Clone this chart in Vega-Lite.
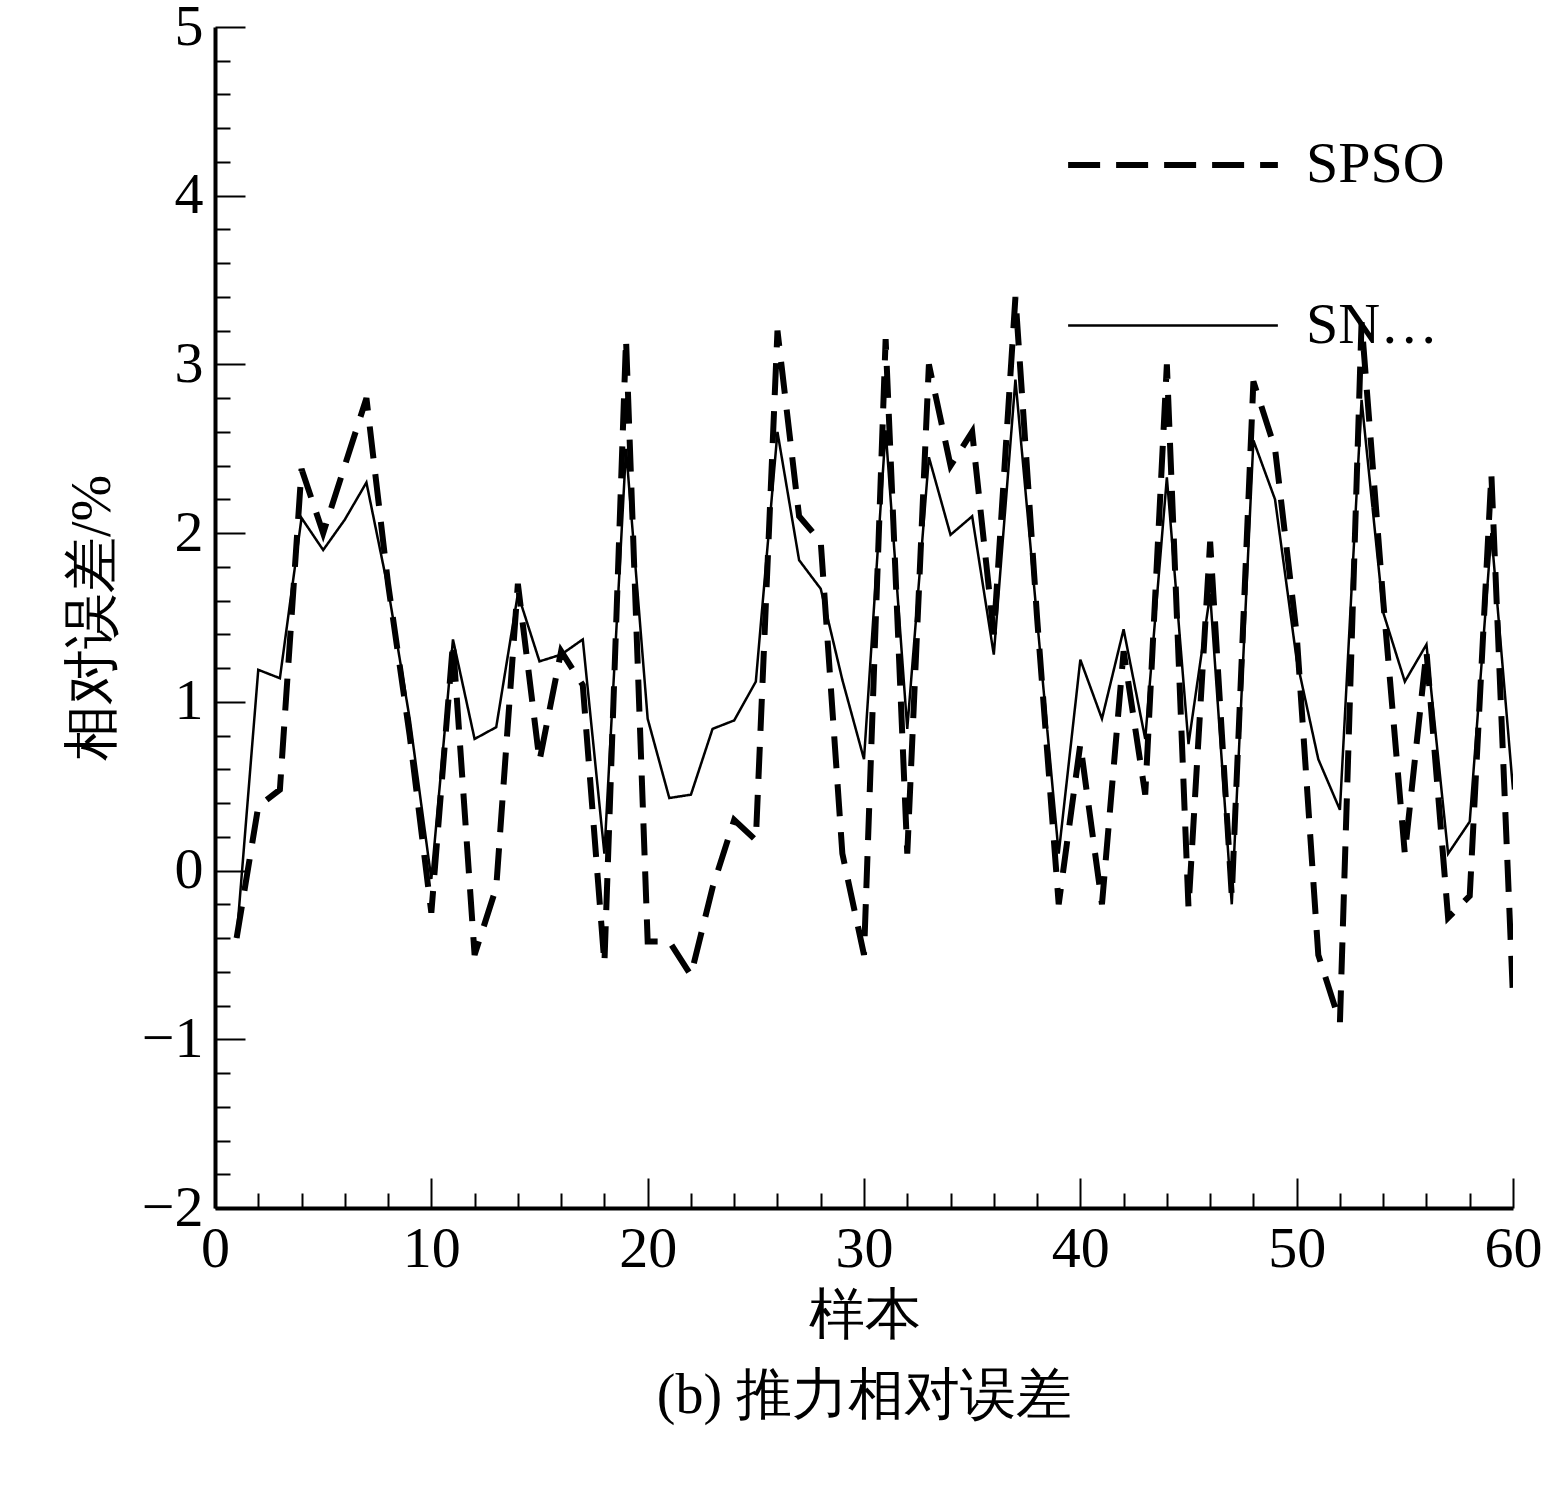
{
  "$schema": "https://vega.github.io/schema/vega-lite/v6.json",
  "width": 1298,
  "height": 1181,
  "autosize": "none",
  "padding": {"left": 215, "top": 27, "right": 33, "bottom": 281},
  "background": "white",
  "data": {"values": [
    {"x":1,"SPSO":-0.4,"SNPSO":-0.4},{"x":2,"SPSO":0.38,"SNPSO":1.19},{"x":3,"SPSO":0.48,"SNPSO":1.14},
    {"x":4,"SPSO":2.38,"SNPSO":2.09},{"x":5,"SPSO":2.0,"SNPSO":1.9},{"x":6,"SPSO":2.4,"SNPSO":2.08},
    {"x":7,"SPSO":2.8,"SNPSO":2.3},{"x":8,"SPSO":1.7,"SNPSO":1.67},{"x":9,"SPSO":0.8,"SNPSO":0.9},
    {"x":10,"SPSO":-0.25,"SNPSO":-0.05},{"x":11,"SPSO":1.35,"SNPSO":1.37},{"x":12,"SPSO":-0.5,"SNPSO":0.78},
    {"x":13,"SPSO":-0.1,"SNPSO":0.85},{"x":14,"SPSO":1.7,"SNPSO":1.64},{"x":15,"SPSO":0.65,"SNPSO":1.24},
    {"x":16,"SPSO":1.3,"SNPSO":1.28},{"x":17,"SPSO":1.1,"SNPSO":1.37},{"x":18,"SPSO":-0.55,"SNPSO":0.1},
    {"x":19,"SPSO":3.15,"SNPSO":2.5},{"x":20,"SPSO":-0.42,"SNPSO":0.9},{"x":21,"SPSO":-0.42,"SNPSO":0.43},
    {"x":22,"SPSO":-0.62,"SNPSO":0.45},{"x":23,"SPSO":-0.1,"SNPSO":0.84},{"x":24,"SPSO":0.3,"SNPSO":0.89},
    {"x":25,"SPSO":0.18,"SNPSO":1.12},{"x":26,"SPSO":3.2,"SNPSO":2.6},{"x":27,"SPSO":2.1,"SNPSO":1.84},
    {"x":28,"SPSO":1.95,"SNPSO":1.67},{"x":29,"SPSO":0.1,"SNPSO":1.13},{"x":30,"SPSO":-0.5,"SNPSO":0.66},
    {"x":31,"SPSO":3.15,"SNPSO":2.61},{"x":32,"SPSO":0.1,"SNPSO":0.84},{"x":33,"SPSO":3.0,"SNPSO":2.45},
    {"x":34,"SPSO":2.4,"SNPSO":1.99},{"x":35,"SPSO":2.6,"SNPSO":2.1},{"x":36,"SPSO":1.4,"SNPSO":1.28},
    {"x":37,"SPSO":3.4,"SNPSO":2.91},{"x":38,"SPSO":1.5,"SNPSO":1.49},{"x":39,"SPSO":-0.2,"SNPSO":0.1},
    {"x":40,"SPSO":0.75,"SNPSO":1.25},{"x":41,"SPSO":-0.2,"SNPSO":0.9},{"x":42,"SPSO":1.3,"SNPSO":1.43},
    {"x":43,"SPSO":0.45,"SNPSO":0.78},{"x":44,"SPSO":3.0,"SNPSO":2.33},{"x":45,"SPSO":-0.22,"SNPSO":0.75},
    {"x":46,"SPSO":1.95,"SNPSO":1.64},{"x":47,"SPSO":-0.15,"SNPSO":-0.2},{"x":48,"SPSO":2.9,"SNPSO":2.55},
    {"x":49,"SPSO":2.5,"SNPSO":2.2},{"x":50,"SPSO":1.4,"SNPSO":1.25},{"x":51,"SPSO":-0.5,"SNPSO":0.66},
    {"x":52,"SPSO":-0.9,"SNPSO":0.36},{"x":53,"SPSO":3.25,"SNPSO":2.79},{"x":54,"SPSO":1.6,"SNPSO":1.53},
    {"x":55,"SPSO":0.1,"SNPSO":1.12},{"x":56,"SPSO":1.3,"SNPSO":1.34},{"x":57,"SPSO":-0.28,"SNPSO":0.1},
    {"x":58,"SPSO":-0.15,"SNPSO":0.29},{"x":59,"SPSO":2.35,"SNPSO":2.0},{"x":60,"SPSO":-0.75,"SNPSO":0.48}
  ]},
  "transform": [{"fold": ["SPSO", "SNPSO"], "as": ["series", "v"]}],
  "mark": {"type": "line", "color": "black", "clip": true},
  "encoding": {
    "x": {
      "field": "x", "type": "quantitative",
      "scale": {"domain": [0, 60], "nice": false},
      "axis": {
        "values": [0,2,4,6,8,10,12,14,16,18,20,22,24,26,28,30,32,34,36,38,40,42,44,46,48,50,52,54,56,58,60],
        "format": "d",
        "labelExpr": "datum.value % 10 === 0 ? datum.label : ''",
        "tickSize": {"condition": {"test": "datum.value % 10 === 0", "value": -30}, "value": -15},
        "title": ["样本", "(b) 推力相对误差"],
        "titleFontWeight": "normal", "titleFontSize": 56, "titlePadding": 10, "titleLineHeight": 80,
        "labelPadding": 42, "labelFlush": false
      }
    },
    "y": {
      "field": "v", "type": "quantitative",
      "scale": {"domain": [-2, 5], "nice": false},
      "axis": {
        "values": [-2,-1.8,-1.6,-1.4,-1.2,-1,-0.8,-0.6,-0.4,-0.2,0,0.2,0.4,0.6,0.8,1,1.2,1.4,1.6,1.8,2,2.2,2.4,2.6,2.8,3,3.2,3.4,3.6,3.8,4,4.2,4.4,4.6,4.8,5],
        "labelExpr": "abs(round(datum.value) - datum.value) < 1e-6 ? format(round(datum.value), 'd') : ''",
        "tickSize": {"condition": {"test": "abs(round(datum.value) - datum.value) < 1e-6", "value": -30}, "value": -15},
        "title": "相对误差/%",
        "titleFontWeight": "normal", "titleFontSize": 56, "titlePadding": 20,
        "labelPadding": 42, "labelFlush": false
      }
    },
    "strokeDash": {
      "field": "series", "type": "nominal",
      "scale": {"domain": ["SPSO", "SNPSO"], "range": [[32, 16], [1, 0]]},
      "legend": {
        "title": null, "orient": "none", "legendX": 850, "legendY": 30,
        "symbolType": "stroke", "symbolStrokeColor": "black", "symbolStrokeWidth": 5,
        "symbolSize": 44000, "labelFontSize": 58, "labelFont": "Liberation Serif",
        "rowPadding": 25, "labelOffset": 25
      }
    },
    "strokeWidth": {
      "field": "series", "type": "nominal",
      "scale": {"domain": ["SPSO", "SNPSO"], "range": [6, 2.5]},
      "legend": null
    }
  },
  "config": {
    "font": "Liberation Serif",
    "view": {"stroke": null},
    "axis": {
      "domainColor": "black", "domainWidth": 4, "tickColor": "black", "tickWidth": 2,
      "labelColor": "black", "titleColor": "black", "labelFontSize": 58,
      "labelFont": "Liberation Serif", "titleFont": "Liberation Serif", "grid": false
    }
  }
}
